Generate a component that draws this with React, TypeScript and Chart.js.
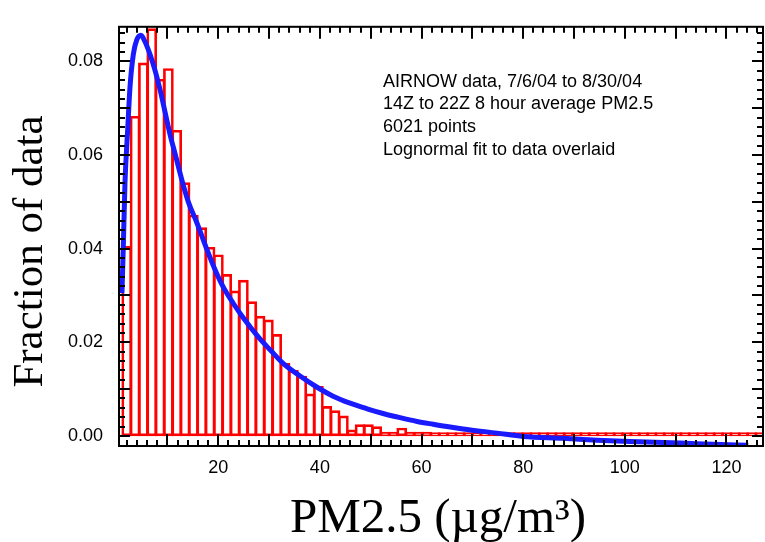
import React, { useEffect, useRef } from 'react';
import { Chart, registerables } from 'chart.js';

Chart.register(...registerables);

// Histogram bins (PM2.5, µg/m3): left edge of the first bin and bin spacing
const binStart = 1.17;
const binWidth = 1.64;

// Fraction of data in each bin
const binFractions = [
  0.0405, 0.0683, 0.0797, 0.0870, 0.0762, 0.0785, 0.0653, 0.0541, 0.0472, 0.0445,
  0.0403, 0.0387, 0.0345, 0.0310, 0.0333, 0.0287, 0.0256, 0.0248, 0.0217, 0.0155,
  0.0140, 0.0128, 0.0090, 0.0106, 0.0063, 0.0054, 0.0043, 0.0013, 0.0024, 0.0024,
  0.0020, 0.0008, 0.0008, 0.0017, 0.0008, 0.0008, 0.0008, 0.0007, 0.0007, 0.0007,
  0.0007, 0.0007, 0.0007, 0.0007, 0.0007, 0.0007, 0.0007, 0.0007, 0.0007, 0.0007,
  0.0007, 0.0007, 0.0007, 0.0007, 0.0007, 0.0007, 0.0007, 0.0007, 0.0007, 0.0007,
  0.0007, 0.0007, 0.0007, 0.0007, 0.0007, 0.0007, 0.0007, 0.0007, 0.0007, 0.0007,
  0.0007, 0.0007, 0.0007, 0.0007, 0.0007, 0.0007, 0.0007,
];

// Lognormal fit curve
const fitX = [
  1.05, 1.32, 1.65, 2.19, 2.64, 3.29, 3.96, 4.8, 5.59, 6.57, 7.56, 8.54, 9.53, 10.51,
  11.5, 12.81, 14.11, 15.77, 17.6, 19.37, 20.94, 22.91, 24.88, 27.83, 30.2, 32.76,
  36.1, 39.45, 42.6, 45.94, 49.29, 52.44, 55.79, 59.13, 62.28, 65.63, 68.19, 74.88,
  80.0, 87.87, 94.57, 101.06, 110.91, 117.4, 124.3,
];
const fitY = [
  0.0305, 0.0405, 0.0541, 0.0657, 0.0746, 0.0815, 0.0846, 0.0856, 0.0842, 0.0815,
  0.0781, 0.074, 0.0692, 0.0644, 0.0603, 0.0548, 0.05, 0.0456, 0.0403, 0.0355,
  0.0319, 0.0284, 0.0253, 0.0212, 0.0184, 0.0155, 0.0128, 0.0104, 0.0085, 0.007,
  0.0058, 0.0048, 0.0039, 0.0031, 0.0025, 0.0019, 0.0015, 0.0006, -0.0001, -0.0005,
  -0.0009, -0.0012, -0.0015, -0.0018, -0.002,
];

const xTickValues = [20, 40, 60, 80, 100, 120];
const yTickValues = [0, 0.02, 0.04, 0.06, 0.08];
const xMin = 0.47;
const xMax = 127.2;
const yMin = -0.00215;
const yMax = 0.0874;

const xTitle = 'PM2.5 (µg/m³)';
const yTitle = 'Fraction of data';
const noteLines = [
  'AIRNOW data, 7/6/04 to 8/30/04',
  '14Z to 22Z 8 hour average PM2.5',
  '6021 points',
  'Lognormal fit to data overlaid',
];

const SANS = '"Liberation Sans", Arial, sans-serif';
const SERIF = '"Liberation Serif", "Times New Roman", serif';

const framePlugin = {
  id: 'frameTicks',
  afterDatasetsDraw(chart: any) {
    const { ctx, chartArea } = chart;
    const { left, right, top, bottom } = chartArea;
    const xs = chart.scales.x;
    const ys = chart.scales.y;
    ctx.save();
    ctx.strokeStyle = '#000';
    ctx.lineWidth = 2;
    ctx.beginPath();
    for (let k = 1; k * 2 <= xs.max; k++) {
      const v = k * 2;
      const px = Math.round(xs.getPixelForValue(v));
      const len = v % 10 === 0 ? 12 : 6;
      ctx.moveTo(px, bottom);
      ctx.lineTo(px, bottom - len);
      ctx.moveTo(px, top);
      ctx.lineTo(px, top + len);
    }
    for (let k = 0; k * 0.002 <= ys.max; k++) {
      const py = Math.round(ys.getPixelForValue(k * 0.002));
      const len = k % 5 === 0 ? 11 : 6;
      ctx.moveTo(left, py);
      ctx.lineTo(left + len, py);
      ctx.moveTo(right, py);
      ctx.lineTo(right - len, py);
    }
    ctx.stroke();
    ctx.strokeRect(left, top, right - left, bottom - top);
    ctx.restore();
  },
  afterDraw(chart: any) {
    const { ctx } = chart;
    ctx.save();
    ctx.fillStyle = '#000';
    // y title
    ctx.save();
    ctx.font = `43px ${SERIF}`;
    ctx.textAlign = 'center';
    ctx.textBaseline = 'alphabetic';
    ctx.translate(42, 251.5);
    ctx.rotate(-Math.PI / 2);
    ctx.fillText(yTitle, 0, 0);
    ctx.restore();
    // x title
    ctx.font = `49px ${SERIF}`;
    ctx.textAlign = 'center';
    ctx.textBaseline = 'alphabetic';
    ctx.fillText(xTitle, 438, 531.5);
    // note
    ctx.font = `18px ${SANS}`;
    ctx.textAlign = 'left';
    noteLines.forEach((t, i) => ctx.fillText(t, 383, 86.5 + i * 22.8));
    ctx.restore();
  },
};

export default function App() {
  const ref = useRef<HTMLCanvasElement>(null);
  useEffect(() => {
    const barData = binFractions.map((v, i) => ({ x: binStart + binWidth * (i + 0.5), y: v }));
    const fitData = fitX.map((x, i) => ({ x, y: fitY[i] }));
    const chart = new Chart(ref.current as HTMLCanvasElement, {
      type: 'bar',
      data: {
        datasets: [
          {
            type: 'line',
            label: 'Lognormal fit',
            data: fitData,
            borderColor: '#1a1aff',
            borderWidth: 5,
            pointRadius: 0,
            fill: false,
            cubicInterpolationMode: 'monotone',
            order: 0,
          } as any,
          {
            type: 'bar',
            label: 'Fraction of data',
            data: barData,
            borderColor: '#ff0000',
            backgroundColor: 'rgba(0,0,0,0)',
            borderWidth: 2,
            borderSkipped: false,
            barThickness: 10,
            order: 1,
          } as any,
        ],
      },
      options: {
        responsive: false,
        devicePixelRatio: 1,
        animation: false,
        layout: { padding: { top: 10, right: 2, left: 0, bottom: 0 } },
        plugins: { legend: { display: false }, tooltip: { enabled: false } },
        scales: {
          x: {
            type: 'linear',
            position: 'bottom',
            offset: false,
            min: xMin,
            max: xMax,
            grid: { display: false, drawTicks: false, offset: false },
            border: { display: false },
            afterBuildTicks: (s: any) => {
              s.ticks = xTickValues.map((v) => ({ value: v }));
            },
            afterFit: (s: any) => {
              s.height = 96;
            },
            ticks: {
              autoSkip: false,
              maxRotation: 0,
              padding: 11,
              color: '#000',
              font: { family: SANS, size: 18, lineHeight: 1.2 },
              callback: (v: any) => String(v),
            },
          },
          y: {
            type: 'linear',
            position: 'left',
            min: yMin,
            max: yMax,
            grid: { display: false, drawTicks: false },
            border: { display: false },
            afterBuildTicks: (s: any) => {
              s.ticks = yTickValues.map((v) => ({ value: v }));
            },
            afterFit: (s: any) => {
              s.width = 119;
            },
            ticks: {
              padding: 16,
              color: '#000',
              font: { family: SANS, size: 18 },
              callback: (v: any) => Number(v).toFixed(2),
            },
          },
        },
      } as any,
      plugins: [framePlugin],
    });
    return () => chart.destroy();
  }, []);
  return (
    <div style={{ position: 'fixed', left: 0, top: 0, width: 765, height: 542, background: '#fff' }}>
      <canvas ref={ref} width={765} height={542} style={{ display: 'block' }} />
    </div>
  );
}
